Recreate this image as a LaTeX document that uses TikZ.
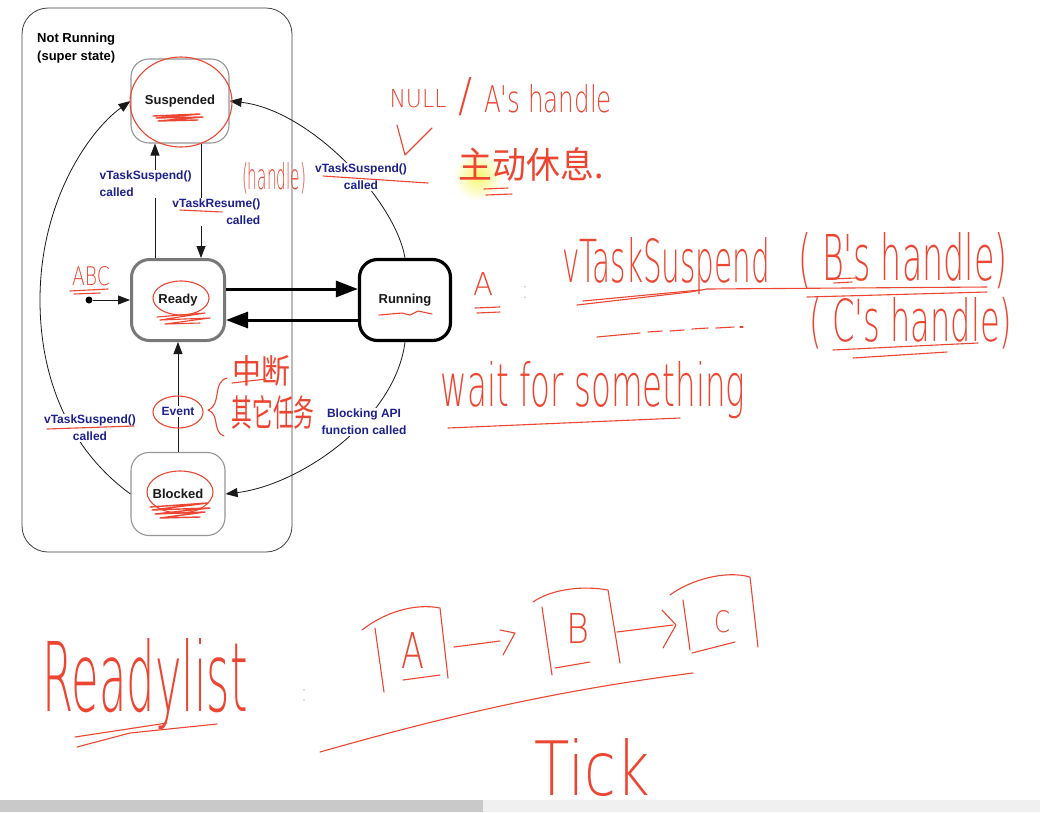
\documentclass[tikz,border=0pt]{standalone}
\usepackage{fontspec}
\setmainfont{Liberation Sans}
\newfontfamily\cjk{Noto Sans CJK SC}
\newfontfamily\hwfont{DejaVu Sans ExtraLight}
\usetikzlibrary{arrows.meta,calc}
\definecolor{lblue}{RGB}{28,32,140}
\definecolor{pen}{RGB}{236,70,50}
\definecolor{hilite}{RGB}{246,246,110}
\definecolor{barL}{RGB}{201,201,201}
\definecolor{barR}{RGB}{240,240,240}
\definecolor{stgray}{RGB}{150,150,150}
\definecolor{rdgray}{RGB}{120,120,120}
\newcommand\hwfit[3]{\resizebox{#1pt}{#2pt}{#3}}
\begin{document}
\begin{tikzpicture}[x=1pt,y=-1pt,
  statebox/.style={draw=stgray,fill=white,rounded corners=18pt,line width=1.1pt,
     minimum width=96pt,minimum height=84pt,inner sep=0pt,
     font=\fontsize{13}{15}\selectfont\bfseries,text=black!90},
  lbl/.style={font=\fontsize{12}{17}\selectfont\bfseries,text=lblue,inner sep=1.5pt,fill=white},
  arr/.style={-{Triangle[length=12pt,width=9pt]},line width=0.8pt,black!90},
  bigarr/.style={-{Triangle[length=22pt,width=16pt]},line width=3pt,black},
  ink/.style={draw=pen,line width=1.1pt,line cap=round,line join=round},
  hw/.style={text=pen,inner sep=0pt,font=\hwfont\fontsize{20}{20}\selectfont},
]
\useasboundingbox (0,0) rectangle (1040,812);
\fill[white] (0,0) rectangle (1040,812);
\fill[barL] (0,800) rectangle (483,812);
\fill[barR] (483,800) rectangle (1040,812);

% super state
\node[draw=black!75,line width=0.8pt,rounded corners=26pt,minimum width=270pt,minimum height=544pt,inner sep=0pt] (super) at (157,280) {};
\node[anchor=north west,align=left,inner sep=0pt,font=\fontsize{13}{18}\selectfont\bfseries] (suptitle) at (37,33) {Not Running\\(super state)};

% states
\node[statebox,minimum width=98pt] (susp) at (180,101) {Suspended};
\node[statebox,draw=rdgray,line width=3pt,minimum width=93pt,minimum height=81pt] (ready) at (178,300) {Ready};
\node[statebox,draw=black,line width=3.2pt,minimum width=91pt,minimum height=81pt] (run) at (405,300) {Running};
\node[statebox,minimum width=94pt,minimum height=83pt] (block) at (178,494) {Blocked};

% suspended <-> ready
\coordinate (rl) at ($(ready.north)+(-23,0)$);
\coordinate (rr) at ($(ready.north)+(23,0)$);
\draw[arr] (rl) -- (rl |- susp.south);
\draw[arr] (rr |- susp.south) -- (rr);
\node[lbl,anchor=west,align=left] (l1) at (98,184) {vTaskSuspend()\\called};
\node[lbl,anchor=east,align=right] (l2) at (262,212) {vTaskResume()\\called};

% initial
\node[circle,fill=black,inner sep=0pt,minimum size=7pt] (init) at (89,300) {};
\draw[arr] (init) -- (ready.west |- init);

% ready <-> running
\coordinate (ta) at ($(ready.east)+(0,-11)$);
\coordinate (tb) at ($(run.west)+(0,20)$);
\draw[bigarr] (ta) -- (ta -| run.west);
\draw[bigarr] (tb) -- (tb -| ready.east);

% blocked -> ready
\draw[arr] (block.north) -- (ready.south) node[lbl,pos=0.37] (ev) {Event};

% running -> blocked
\draw[arr] (run.south) .. controls (395,420) and (300,485) .. (block.east);
\node[lbl,align=center] (l3) at (364,422) {Blocking API\\function called};
% running -> suspended
\draw[arr] (run.north) .. controls (395,200) and (310,110) .. (susp.east);
\node[lbl,align=center] (l4) at (361,177) {vTaskSuspend()\\called};
% blocked -> suspended
\draw[arr] (block.west) .. controls (70,450) and (40,380) .. (40,300) .. controls (40,200) and (90,130) .. (susp.west);
\node[lbl,align=center] (l5) at (90,428) {vTaskSuspend()\\called};

% ===== handwritten annotations =====
\shade[inner color=hilite,outer color=white] (478,176) circle (25pt);

\draw[ink] (181,102) ellipse [x radius=51pt,y radius=45pt];
\draw[ink] (181,298) ellipse [x radius=28pt,y radius=17pt];
\draw[ink] (180,492) ellipse [x radius=33pt,y radius=21pt];
\draw[ink] (178,412) ellipse [x radius=25pt,y radius=16pt];

\draw[ink,line width=1.4pt] (153,116) -- (200,114) -- (156,118) -- (203,117) -- (158,121) -- (198,120);
\draw[ink] (157,317) -- (205,313) -- (160,320) -- (210,318) -- (165,324) -- (200,323);
\draw[ink] (379,315) -- (402,313) -- (410,315) -- (418,311) -- (432,314);
\draw[ink,line width=1.4pt] (150,507) -- (208,503) -- (152,510) -- (210,508) -- (155,514) -- (205,512) -- (160,518) -- (200,517);

\node[hw] (t1a) at (418,99) {\hwfit{57}{18}{NULL}};
\node[hw] (t1b) at (465,97) {\hwfit{14}{34}{/}};
\node[hw] (t1c) at (548,99) {\hwfit{128}{28}{A's handle}};
\node[hw] (t2) at (274,178) {\hwfit{64}{27}{(handle)}};
\node[hw] (t3) at (531,164) {\hwfit{145}{31}{\cjk 主动休息.}};
\node[hw] (t4) at (483,284) {\hwfit{20}{23}{A}};
\node[hw] (t5) at (525,292) {\hwfit{4}{12}{:}};
\node[hw] (t6) at (666,266) {\hwfit{208}{45}{vTaskSuspend}};
\node[hw] (t7) at (903,261) {\hwfit{209}{48}{( B's handle)}};
\node[hw] (t8) at (911,323) {\hwfit{203}{44}{( C's handle)}};
\node[hw] (t9) at (593,390) {\hwfit{305}{45}{wait for something}};
\node[hw] (t10) at (91,276) {\hwfit{38}{19}{ABC}};
\node[hw] (t11) at (261,371) {\hwfit{58}{28}{\cjk 中断}};
\node[hw] (t12) at (273,412) {\hwfit{83}{31}{\cjk 其它任务}};
\node[hw] (t13) at (145,684) {\hwfit{205}{73}{Readylist}};
\node[hw] (t14) at (304,695) {\hwfit{4}{12}{:}};
\node[hw] (t15) at (413,650) {\hwfit{23}{36}{A}};
\node[hw] (t16) at (578,628) {\hwfit{23}{30}{B}};
\node[hw] (t17) at (722,622) {\hwfit{16}{22}{C}};
\node[hw] (t18) at (592,768) {\hwfit{115}{57}{Tick}};

% strokes
\draw[ink] (397,125) -- (405,155) -- (432,128);
\draw[ink] (323,176) -- (428,183);
\draw[ink] (227,378) .. controls (212,382) and (222,405) .. (208,410) .. controls (220,414) and (212,432) .. (224,436);
\draw[ink] (484,189) -- (508,188);
\draw[ink] (486,195) -- (512,194);
\draw[ink] (475,308) -- (500,307);
\draw[ink] (477,313) -- (500,312);
\draw[ink] (577,305) -- (690,292) -- (707,289) -- (987,287);
\draw[ink] (583,301) -- (700,290);
\draw[ink] (807,297) -- (987,292);
\draw[ink] (832,279) -- (855,278);
\draw[ink] (834,283) -- (852,282);
\draw[ink] (597,337) -- (640,333);
\draw[ink] (648,332) -- (662,331);
\draw[ink] (670,331) -- (684,330);
\draw[ink] (692,329) -- (708,328);
\draw[ink] (716,328) -- (734,327);
\draw[ink] (740,327) -- (743,327);
\draw[ink] (833,350) -- (978,343);
\draw[ink] (853,358) -- (947,352);
\draw[ink] (448,428) -- (680,418);
\draw[ink] (70,291) -- (108,289);
\draw[ink] (74,294) -- (100,293);
\draw[ink] (180,210) -- (222,212);
\draw[ink] (47,429) -- (134,426);
\draw[ink] (232,383) -- (266,379);
\draw[ink] (75,737) -- (167,723);
\draw[ink] (77,747) -- (130,733) -- (217,724);

% ready list boxes
\draw[ink] (375,628) -- (384,692);
\draw[ink] (362,630) .. controls (385,612) and (415,603) .. (440,608) -- (448,678);
\draw[ink] (403,680) -- (440,675);
\draw[ink] (454,647) -- (500,641);
\draw[ink] (500,630) -- (515,633) -- (503,655);
\draw[ink] (542,607) -- (552,675);
\draw[ink] (533,602) .. controls (550,590) and (580,585) .. (608,590) -- (620,663);
\draw[ink] (555,668) -- (590,662);
\draw[ink] (617,632) -- (673,625);
\draw[ink] (662,610) -- (676,625) -- (663,648);
\draw[ink] (683,600) -- (690,650);
\draw[ink] (670,595) .. controls (690,580) and (725,570) .. (750,577) -- (758,647);
\draw[ink] (692,653) -- (735,642);
\draw[ink] (320,752) .. controls (450,715) and (560,690) .. (693,673);
\end{tikzpicture}
\end{document}
